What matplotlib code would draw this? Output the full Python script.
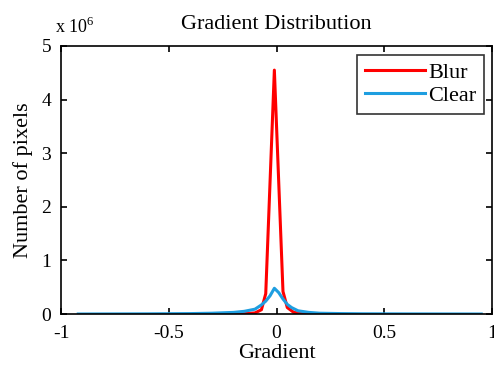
import numpy as np
import matplotlib.pyplot as plt

plt.rcParams['font.family'] = ['Liberation Serif', 'DejaVu Serif']
plt.rcParams['mathtext.fontset'] = 'custom'
plt.rcParams['mathtext.rm'] = 'Liberation Serif'

# histogram data (counts in units of 1e6)
blur_x = [-0.30, -0.20, -0.15, -0.10, -0.07, -0.05, -0.01, 0.03, 0.05, 0.08, 0.12, 0.20]
blur_y = [0.0, 0.003, 0.006, 0.02, 0.08, 0.38, 4.55, 0.42, 0.12, 0.03, 0.01, 0.0]

clear_x = [-0.92, -0.6, -0.4, -0.3, -0.2, -0.15, -0.1, -0.07, -0.05, -0.03, -0.01,
           0.01, 0.03, 0.05, 0.07, 0.1, 0.15, 0.2, 0.3, 0.4, 0.6, 0.95]
clear_y = [0.0, 0.003, 0.008, 0.015, 0.03, 0.05, 0.09, 0.17, 0.24, 0.34, 0.48,
           0.40, 0.28, 0.18, 0.12, 0.06, 0.03, 0.015, 0.008, 0.004, 0.002, 0.0]

xticks = [-1, -0.5, 0, 0.5, 1]
xticklabels = ['-1', '-0.5', '0', '0.5', '1']
yticks = [0, 1, 2, 3, 4, 5]

fig = plt.figure(figsize=(4.94, 3.65), dpi=100)
ax = fig.add_axes([0.1235, 0.1397, 0.8725, 0.7343])

ax.plot(blur_x, blur_y, color='#ff0000', lw=2.2, label='Blur')
ax.plot(clear_x, clear_y, color='#1e9ee0', lw=2.2, label='Clear')

ax.set_xlim(-1, 1)
ax.set_ylim(0, 5)
ax.set_xticks(xticks)
ax.set_xticklabels(xticklabels)
ax.set_yticks(yticks)
ax.tick_params(direction='in', top=True, right=True, labelsize=14, length=4, width=1.2)
ax.tick_params(axis='x', pad=8)
ax.tick_params(axis='y', pad=7)
for s in ax.spines.values():
    s.set_linewidth(1.2)

ax.set_title('Gradient Distribution', fontsize=16, pad=12)
ax.set_xlabel('Gradient', fontsize=16, labelpad=1)
ax.set_ylabel('Number of pixels', fontsize=16, labelpad=6)
ax.text(-0.015, 1.035, r'x 10$^6$', transform=ax.transAxes, fontsize=13,
        ha='left', va='bottom')

leg = ax.legend(loc='upper right', fontsize=16, fancybox=False, edgecolor='black',
                handlelength=2.7, handletextpad=0.15, borderpad=0.35, labelspacing=0.1,
                borderaxespad=0, bbox_to_anchor=(0.982, 0.967))
leg.get_frame().set_linewidth(1.2)

fig.savefig('out.png', dpi=100)
